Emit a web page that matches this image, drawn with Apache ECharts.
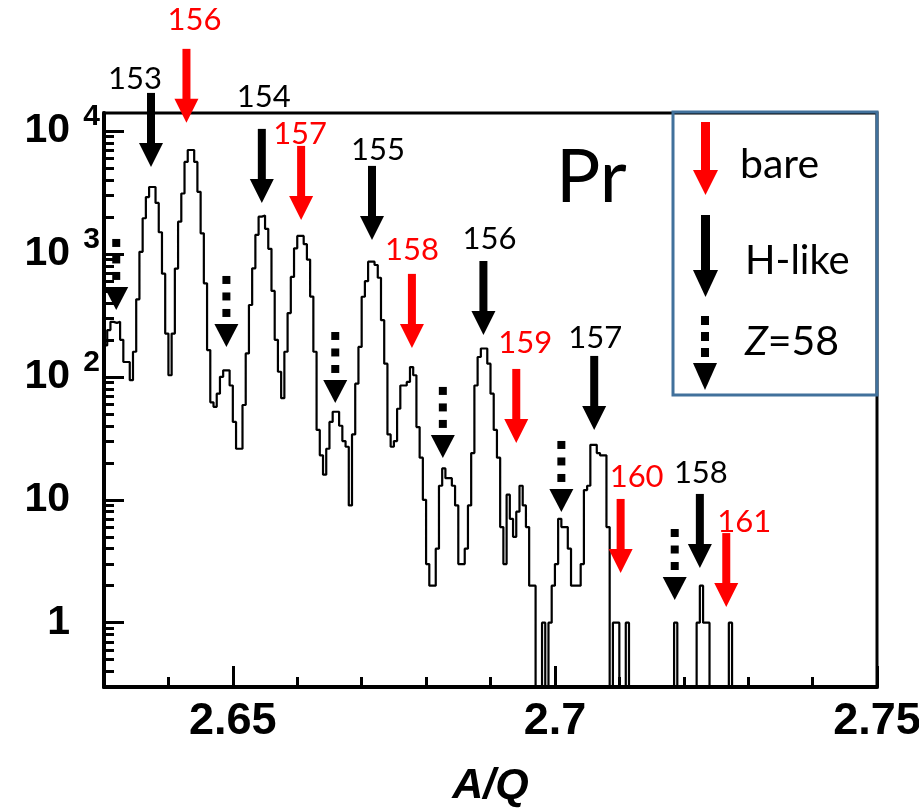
<!DOCTYPE html>
<html>
<head>
<meta charset="utf-8">
<script src="https://cdn.jsdelivr.net/npm/echarts@6/dist/echarts.min.js"></script>
<style>
  html, body { margin: 0; padding: 0; background: #fff; }
  #chart { width: 919px; height: 808px; }
</style>
</head>
<body>
<div id="chart"></div>
<script>
// A/Q spectrum of Pr fragments: counts per 0.0005-wide bin starting at A/Q = 2.63
const binStart = 2.63;
const binWidth = 0.0005;
const counts = [
  180, 240, 280, 275, 280, 200, 132, 132, 94, 160,
  427, 1040, 1950, 2900, 3500, 3500, 2600, 1500, 690, 225,
  103, 225, 760, 1830, 3100, 5600, 7000, 7000, 5600, 3200,
  1470, 576, 165, 62, 57, 73, 100, 113, 113, 85,
  43, 26, 26, 59, 155, 384, 763, 1430, 2010, 2050,
  1600, 1100, 500, 200, 110, 67, 160, 330, 650, 1110,
  1400, 1400, 1200, 900, 450, 160, 37, 23, 16, 26,
  43, 52, 52, 40, 30, 27, 9, 34, 88, 175,
  448, 600, 864, 864, 812, 640, 289, 128, 34, 27,
  30, 55, 85, 85, 91, 120, 103, 39, 22, 10,
  3, 2, 2, 4, 13, 18, 15, 15, 13, 9,
  3, 3, 4, 9, 24, 85, 145, 170, 170, 128,
  73, 37, 22, 6, 3, 11, 7, 5, 8, 13,
  9, 6, 2, 2, 0, 0, 1, 0, 1, 2,
  3, 7, 6, 6, 4, 2, 2, 2, 3, 12,
  13, 28, 28, 24, 23, 23, 6, 0, 1, 1,
  0, 0, 1, 0, 0, 0, 0, 0, 0, 0,
  0, 0, 0, 0, 0, 0, 0, 1, 0, 0,
  0, 0, 0, 0, 1, 2, 1, 1, 0, 0,
  0, 0, 0, 0, 1, 0, 0, 0, 0, 0,
  0, 0, 0, 0, 0, 0, 0, 0, 0, 0,
  0, 0, 0, 0, 0, 0, 0, 0, 0, 0,
  0, 0, 0, 0, 0, 0, 0, 0, 0, 0,
  0, 0, 0, 0, 0, 0, 0, 0, 0, 0
];

// Axis ticks
const xLabelTicks = [2.65, 2.7, 2.75];
const xMinorTicks = [2.64, 2.66, 2.67, 2.68, 2.69, 2.71, 2.72, 2.73, 2.74];
const yDecades = [1, 10, 100, 1000, 10000];
const yMinorTicks = [
  0.4, 0.5, 0.6, 0.7, 0.8, 0.9,
  2, 3, 4, 5, 6, 7, 8, 9,
  20, 30, 40, 50, 60, 70, 80, 90,
  200, 300, 400, 500, 600, 700, 800, 900,
  2000, 3000, 4000, 5000, 6000, 7000, 8000, 9000
];

// Isotope markers: bare Pr (red), H-like Pr (black), Z=58 (dotted)
const bareMass = ['156', '157', '158', '159', '160', '161'];
const bareAQ   = [2.6428, 2.6606, 2.6778, 2.6940, 2.7102, 2.7266];
const bareTip  = [11640, 1890, 172, 29, 2.54, 1.34];
const hMass = ['153', '154', '155', '156', '157', '158'];
const hAQ   = [2.6373, 2.6545, 2.6716, 2.6889, 2.7061, 2.7225];
const hTip  = [5100, 2600, 1300, 219, 37, 2.79];
const z58AQ  = [2.6319, 2.6490, 2.6659, 2.6826, 2.7010, 2.7186];
const z58Tip = [350, 175, 61.3, 21.9, 7.96, 1.53];

// Label placement relative to the arrow tip, in pixels
const bareLabelShift = [[8, -103], [-1, -86], [0, -98], [9, -100], [16, -96], [18, -85]];
const hLabelShift = [[-16, -88], [2, -106], [6, -90], [6, -96], [1, -92], [1, -95]];

const Y_MIN = 0.3, Y_MAX = 14000;
const X_MIN = 2.63, X_MAX = 2.75;

// Histogram outline: one point per bin edge, empty bins sit on the axis floor
const histData = counts.map((c, i) => [binStart + i * binWidth, c > 0 ? c : Y_MIN]);
const lastCount = counts[counts.length - 1];
histData.push([binStart + counts.length * binWidth, lastCount > 0 ? lastCount : Y_MIN]);

const RED = '#ff0000';
const LABEL_FONT = 'Lato, "Open Sans", sans-serif';

function solidArrow(color, labels, shifts) {
  return function (params, api) {
    const p = api.coord([api.value(0), api.value(1)]);
    const i = params.dataIndex;
    const headH = 24, headW = 24, shaftW = 8, shaftL = 50;
    return {
      type: 'group',
      children: [
        { type: 'rect', shape: { x: p[0] - shaftW / 2, y: p[1] - headH - shaftL, width: shaftW, height: shaftL + 1 },
          style: { fill: color } },
        { type: 'polygon', shape: { points: [[p[0] - headW / 2, p[1] - headH], [p[0] + headW / 2, p[1] - headH], [p[0], p[1]]] },
          style: { fill: color } },
        { type: 'text', x: p[0] + shifts[i][0], y: p[1] + shifts[i][1],
          style: { text: labels[i], fill: color, fontSize: 31, fontFamily: LABEL_FONT, align: 'center', verticalAlign: 'middle' } }
      ]
    };
  };
}

function dottedArrow(params, api) {
  const p = api.coord([api.value(0), api.value(1)]);
  const headH = 23, headW = 24, sq = 8, gap = 16.5;
  const children = [
    { type: 'polygon', shape: { points: [[p[0] - headW / 2, p[1] - headH], [p[0] + headW / 2, p[1] - headH], [p[0], p[1]]] },
      style: { fill: '#000' } }
  ];
  for (let k = 0; k < 3; k++) {
    children.push({ type: 'rect',
      shape: { x: p[0] - sq / 2, y: p[1] - headH - 7 - sq - k * gap, width: sq, height: sq },
      style: { fill: '#000' } });
  }
  return { type: 'group', children };
}

const axisFont = '"Liberation Sans", Arial, sans-serif';
const narrowFont = '"Liberation Sans Narrow", "Arial Narrow", "Liberation Sans", sans-serif';

const option = {
  animation: false,
  backgroundColor: '#fff',
  grid: {
    left: 104, right: 42, top: 113, bottom: 121,
    show: true, borderColor: '#000', borderWidth: 3,
    outerBoundsMode: 'none'
  },
  xAxis: [
    {
      type: 'value', min: X_MIN, max: X_MAX, position: 'bottom',
      name: 'A/Q', nameLocation: 'middle', nameGap: 78,
      nameTextStyle: { fontFamily: axisFont, fontWeight: 'bold', fontStyle: 'italic', fontSize: 43, color: '#000' },
      axisLine: { lineStyle: { color: '#000', width: 4 } },
      axisTick: { customValues: xLabelTicks, inside: true, length: 21, lineStyle: { color: '#000', width: 3 } },
      axisLabel: { customValues: xLabelTicks, margin: 12,
        formatter: v => String(+v.toFixed(2)),
        fontFamily: narrowFont, fontWeight: 'bold', fontSize: 45, color: '#000' },
      splitLine: { show: false }
    },
    {
      type: 'value', min: X_MIN, max: X_MAX, position: 'bottom',
      axisLine: { show: false },
      axisTick: { customValues: xMinorTicks, inside: true, length: 10, lineStyle: { color: '#000', width: 3 } },
      axisLabel: { show: false },
      splitLine: { show: false }
    }
  ],
  yAxis: [
    {
      type: 'log', logBase: 10, min: Y_MIN, max: Y_MAX, position: 'left',
      axisLine: { lineStyle: { color: '#000', width: 4 } },
      axisTick: { customValues: yDecades, inside: true, length: 20, lineStyle: { color: '#000', width: 3 } },
      axisLabel: {
        customValues: yDecades, margin: 4,
        formatter: v => {
          const n = Math.round(Math.log10(v));
          if (n >= 2) return '{b|10}{s|' + n + '}';
          return '{b|' + (n === 1 ? '10' : '1') + '}{s| }';
        },
        rich: {
          b: { fontFamily: axisFont, fontWeight: 'bold', fontSize: 41, lineHeight: 58, color: '#000' },
          s: { fontFamily: axisFont, fontWeight: 'bold', fontSize: 30, lineHeight: 14, width: 30,
               align: 'right', verticalAlign: 'top', color: '#000' }
        }
      },
      splitLine: { show: false }
    },
    {
      type: 'log', logBase: 10, min: Y_MIN, max: Y_MAX, position: 'left',
      axisLine: { show: false },
      axisTick: { customValues: yMinorTicks, inside: true, length: 10, lineStyle: { color: '#000', width: 3 } },
      axisLabel: { show: false },
      splitLine: { show: false }
    }
  ],
  series: [
    {
      type: 'line', name: 'counts', step: 'end', data: histData,
      xAxisIndex: 0, yAxisIndex: 0,
      symbol: 'none', clip: true, silent: true,
      lineStyle: { color: '#000', width: 2.2 }, z: 3
    },
    {
      type: 'custom', name: 'bare', coordinateSystem: 'cartesian2d', silent: true, clip: false, z: 5,
      data: bareAQ.map((x, i) => [x, bareTip[i]]),
      renderItem: solidArrow(RED, bareMass, bareLabelShift)
    },
    {
      type: 'custom', name: 'H-like', coordinateSystem: 'cartesian2d', silent: true, clip: false, z: 5,
      data: hAQ.map((x, i) => [x, hTip[i]]),
      renderItem: solidArrow('#000', hMass, hLabelShift)
    },
    {
      type: 'custom', name: 'Z=58', coordinateSystem: 'cartesian2d', silent: true, clip: false, z: 5,
      data: z58AQ.map((x, i) => [x, z58Tip[i]]),
      renderItem: dottedArrow
    }
  ],
  graphic: [
    { type: 'text', x: 556, y: 178, style: { text: 'Pr', fontSize: 74, fontFamily: LABEL_FONT, fill: '#000', verticalAlign: 'middle' } },
    // key box
    { type: 'rect', shape: { x: 673, y: 112, width: 204, height: 283 },
      style: { fill: 'rgba(255,255,255,0)', stroke: '#41719c', lineWidth: 3 }, z: 10 },
    { type: 'rect', shape: { x: 701, y: 122, width: 9, height: 50 }, style: { fill: RED }, z: 10 },
    { type: 'polygon', shape: { points: [[693, 170], [718, 170], [705.5, 195]] }, style: { fill: RED }, z: 10 },
    { type: 'text', x: 740, y: 165, style: { text: 'bare', fontSize: 41, fontFamily: LABEL_FONT, fill: '#000', verticalAlign: 'middle' }, z: 10 },
    { type: 'rect', shape: { x: 701, y: 215, width: 9, height: 56 }, style: { fill: '#000' }, z: 10 },
    { type: 'polygon', shape: { points: [[693, 270], [718, 270], [705.5, 297]] }, style: { fill: '#000' }, z: 10 },
    { type: 'text', x: 745, y: 261, style: { text: 'H-like', fontSize: 40, fontFamily: LABEL_FONT, fill: '#000', verticalAlign: 'middle' }, z: 10 },
    { type: 'rect', shape: { x: 701, y: 316, width: 8, height: 9 }, style: { fill: '#000' }, z: 10 },
    { type: 'rect', shape: { x: 701, y: 332, width: 8, height: 9 }, style: { fill: '#000' }, z: 10 },
    { type: 'rect', shape: { x: 701, y: 348, width: 8, height: 9 }, style: { fill: '#000' }, z: 10 },
    { type: 'polygon', shape: { points: [[693, 363], [717, 363], [705, 390]] }, style: { fill: '#000' }, z: 10 },
    { type: 'text', x: 745, y: 342, z: 10,
      style: { text: '{i|Z}=58', fontSize: 41, fontFamily: LABEL_FONT, fill: '#000', verticalAlign: 'middle',
               rich: { i: { fontStyle: 'italic', fontSize: 41, fontFamily: LABEL_FONT, fill: '#000' } } } }
  ]
};

const chart = echarts.init(document.getElementById('chart'), null, { renderer: 'canvas' });
chart.setOption(option);
</script>
</body>
</html>
